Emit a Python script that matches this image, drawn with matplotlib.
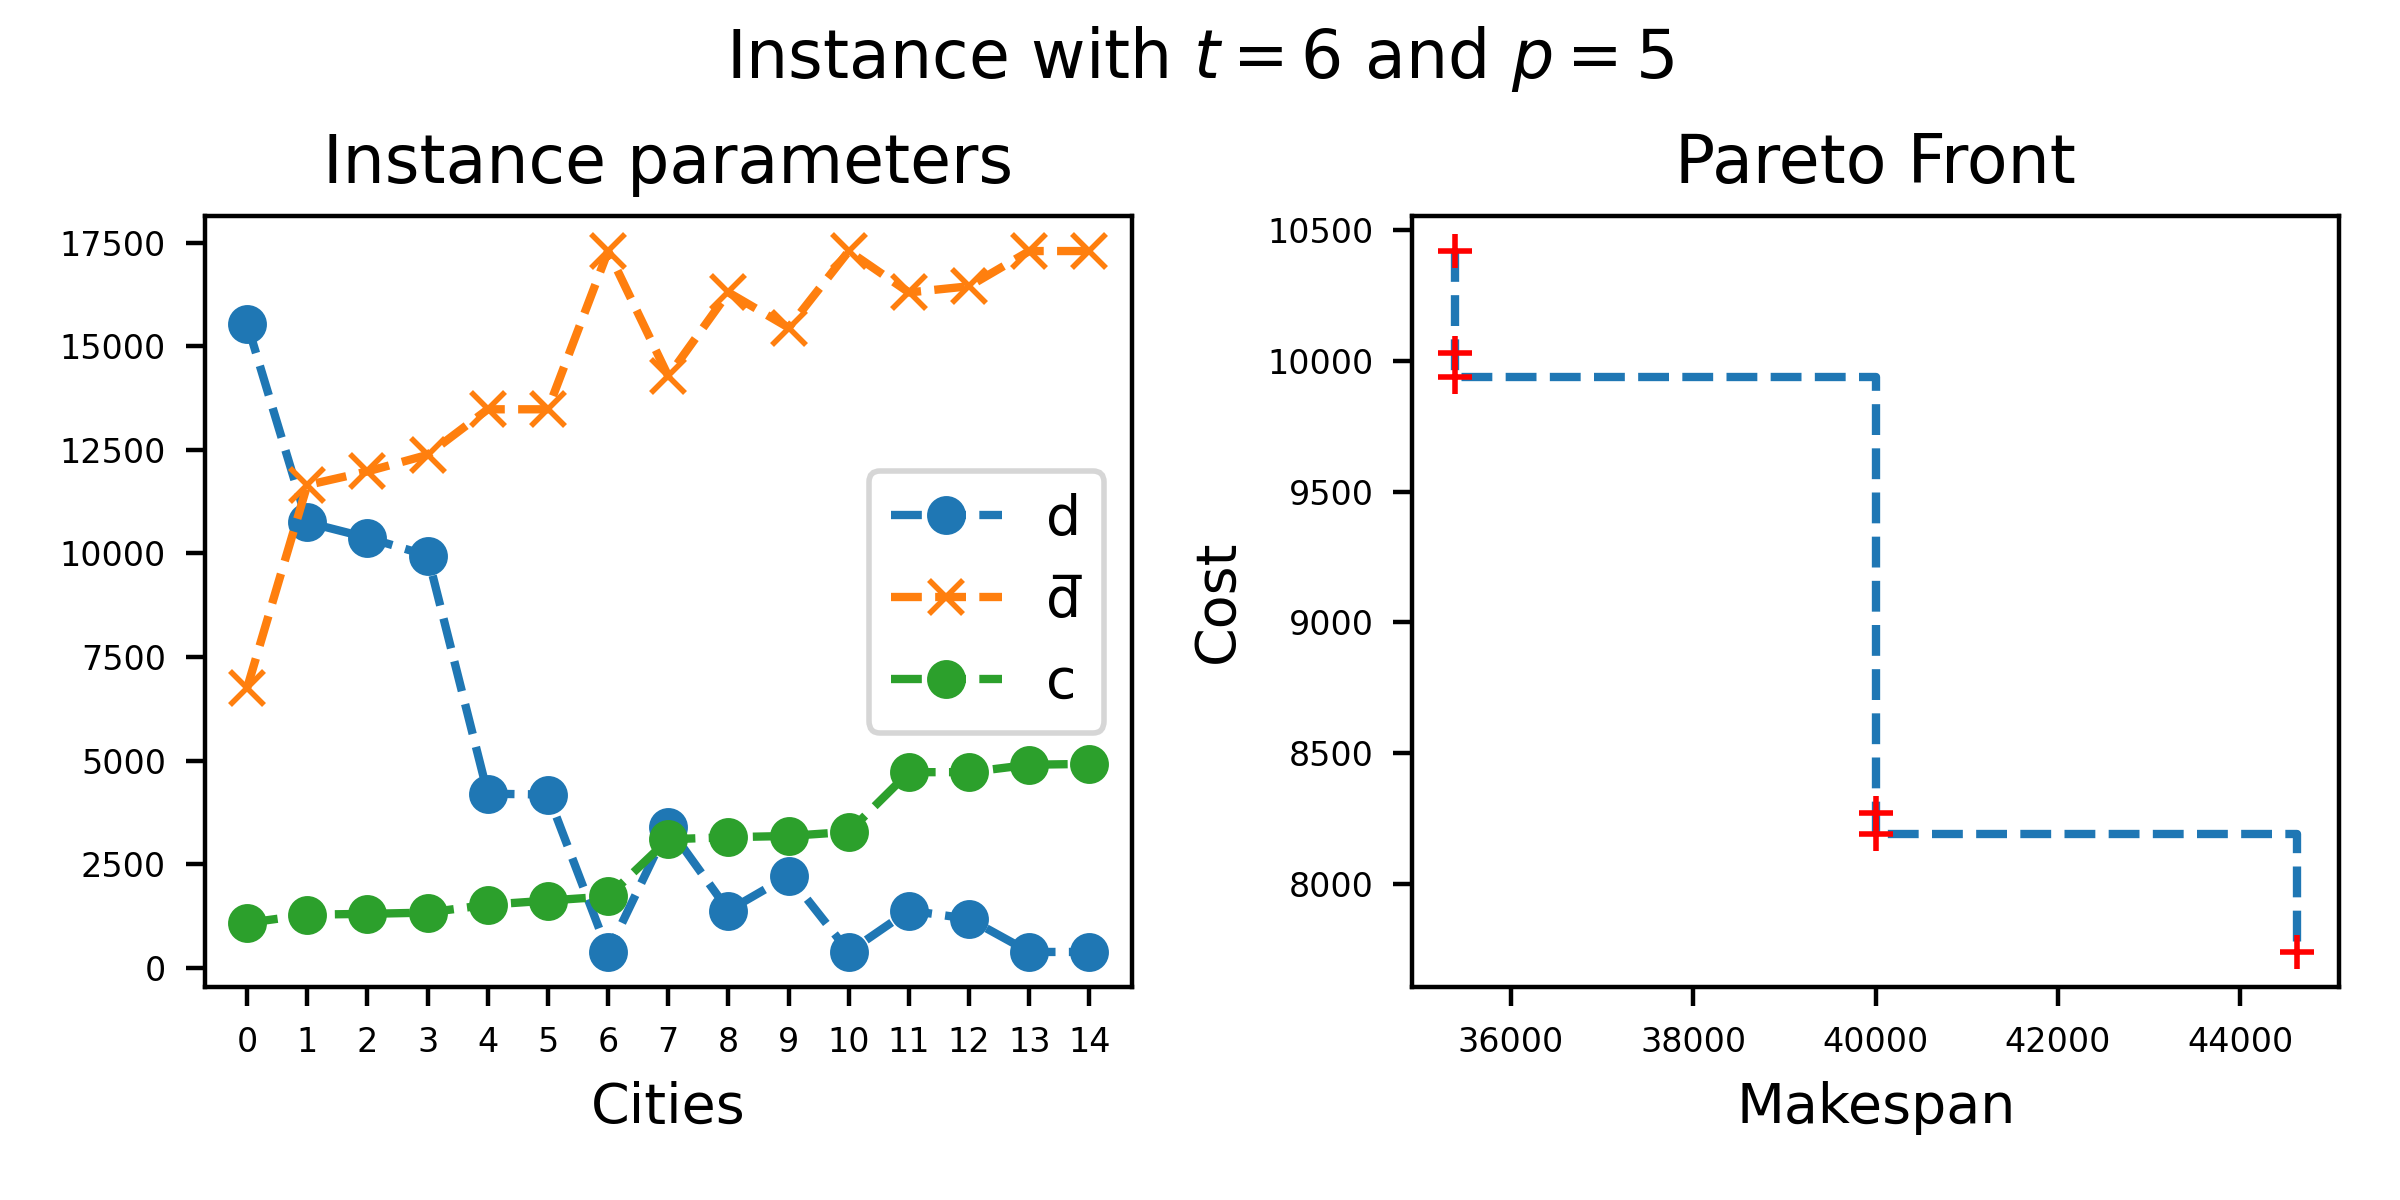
import matplotlib
matplotlib.use("Agg")
import matplotlib.pyplot as plt

cities = list(range(15))
d = [15550, 10750, 10380, 9950, 4200, 4180, 380, 3400, 1380, 2220, 380, 1380, 1180, 380, 380]
dbar = [6750, 11650, 11980, 12380, 13480, 13480, 17300, 14280, 16300, 15450, 17300, 16300, 16450, 17300, 17300]
c = [1080, 1280, 1300, 1330, 1520, 1620, 1720, 3100, 3150, 3180, 3280, 4720, 4720, 4900, 4920]

makespan = [35380, 35380, 35380, 40000, 40000, 44620]
cost = [10420, 10030, 9940, 8270, 8190, 7740]

fig, (ax1, ax2) = plt.subplots(1, 2, figsize=(6, 3), dpi=400)
fig.suptitle(r"Instance with $t=6$ and $p=5$")

ax1.plot(cities, d, 'o--', label='d')
ax1.plot(cities, dbar, 'x--', label='d\u0305')
ax1.plot(cities, c, 'o--', label='c')
ax1.set_xticks(cities)
ax1.tick_params(labelsize=6)
ax1.set_xlabel("Cities")
ax1.set_title("Instance parameters")
ax1.legend(loc='center right')

ax2.plot(makespan, cost, '--', drawstyle='steps-post')
ax2.plot(makespan, cost, 'r+')
ax2.tick_params(labelsize=6)
ax2.set_xlabel("Makespan")
ax2.set_ylabel("Cost")
ax2.set_title("Pareto Front")

fig.subplots_adjust(left=0.0854, right=0.9746, bottom=0.1775, top=0.82, wspace=0.303)
fig.savefig("out.png")
